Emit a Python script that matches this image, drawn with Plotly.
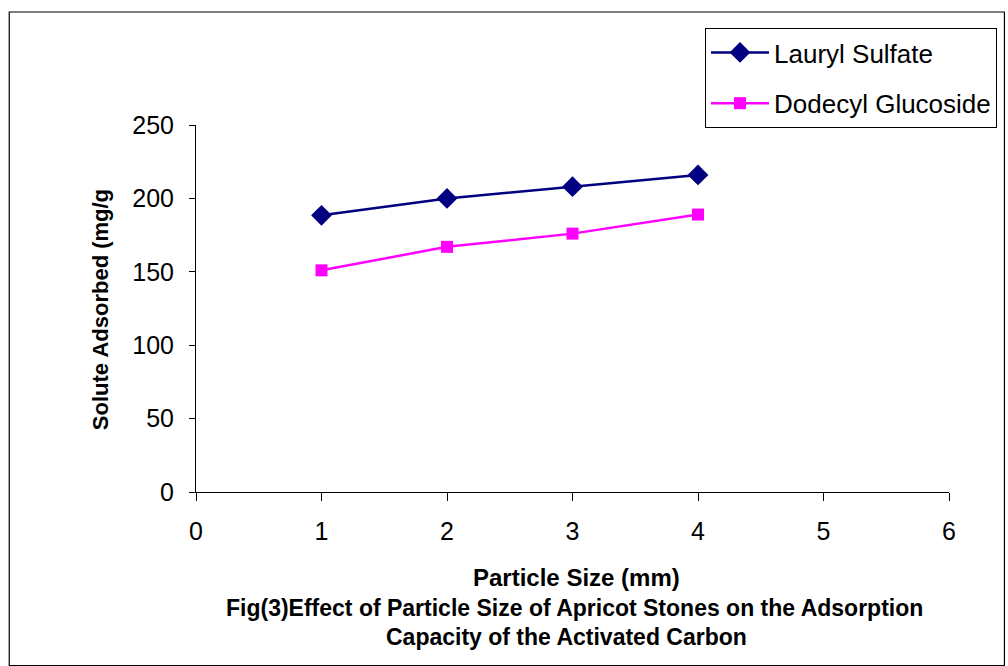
import plotly.graph_objects as go

particle_size = [1, 2, 3, 4]
lauryl_sulfate = [188.5, 200, 208, 216]
dodecyl_glucoside = [151, 167, 176, 189]

x_ticks = [0, 1, 2, 3, 4, 5, 6]
y_ticks = [0, 50, 100, 150, 200, 250]

FONT = "Liberation Sans, Arial, sans-serif"

fig = go.Figure()
fig.add_trace(go.Scatter(
    x=particle_size, y=lauryl_sulfate, name="Lauryl Sulfate",
    mode="lines+markers", legendgroup="a",
    line=dict(color="#000080", width=2.5),
    marker=dict(symbol="diamond", size=16, color="#000080"),
))
fig.add_trace(go.Scatter(
    x=particle_size, y=dodecyl_glucoside, name="Dodecyl Glucoside",
    mode="lines+markers", legendgroup="b",
    line=dict(color="#FF00FF", width=2.5),
    marker=dict(symbol="square", size=12, color="#FF00FF"),
))

L, R, T, B = 196, 58, 125, 174
W, H = 1008, 666
pw = W - L - R
ph = H - T - B

def px(x):
    return (x - L) / pw

def py(y):
    return (H - B - y) / ph

fig.update_layout(
    width=W, height=H,
    margin=dict(l=L, r=R, t=T, b=B),
    paper_bgcolor="white", plot_bgcolor="white",
    font=dict(family=FONT, color="black"),
    showlegend=True,
    legend=dict(
        x=px(705), y=py(28), xanchor="left", yanchor="top",
        bordercolor="black", borderwidth=1, bgcolor="white",
        font=dict(size=26, family=FONT),
        tracegroupgap=14, itemwidth=58,
    ),
    xaxis=dict(
        range=[0, 6], tickvals=x_ticks, showgrid=False, zeroline=False,
        showline=True, linecolor="black", linewidth=1,
        ticks="outside", ticklen=8, tickcolor="black",
        tickfont=dict(size=25, family=FONT), ticklabelstandoff=9,
    ),
    yaxis=dict(
        range=[0, 250], tickvals=y_ticks, showgrid=False, zeroline=False,
        showline=True, linecolor="black", linewidth=1,
        ticks="outside", ticklen=6, tickcolor="black",
        tickfont=dict(size=25, family=FONT), ticklabelstandoff=10,
    ),
)

fig.add_shape(type="rect", xref="paper", yref="paper",
              x0=px(9), x1=px(1005.5), y0=py(665.5), y1=py(12),
              line=dict(color="black", width=1.2), fillcolor="rgba(0,0,0,0)", layer="below")

fig.add_annotation(xref="paper", yref="paper", x=px(577), y=py(577),
                   text="<b>Particle Size (mm)</b>",
                   showarrow=False, xanchor="center", yanchor="middle",
                   font=dict(size=24, family=FONT))
fig.add_annotation(xref="paper", yref="paper", x=px(100), y=py(310),
                   text="<b>Solute Adsorbed (mg/g</b>", textangle=-90,
                   showarrow=False, xanchor="center", yanchor="middle",
                   font=dict(size=22, family=FONT))
fig.add_annotation(xref="paper", yref="paper", x=px(575), y=py(608),
                   text="<b>Fig(3)Effect of Particle Size of Apricot Stones on the Adsorption</b>",
                   showarrow=False, xanchor="center", yanchor="middle",
                   font=dict(size=23, family=FONT))
fig.add_annotation(xref="paper", yref="paper", x=px(567), y=py(637),
                   text="<b>Capacity of the Activated Carbon</b>",
                   showarrow=False, xanchor="center", yanchor="middle",
                   font=dict(size=23, family=FONT))

fig.write_html("out.html")
